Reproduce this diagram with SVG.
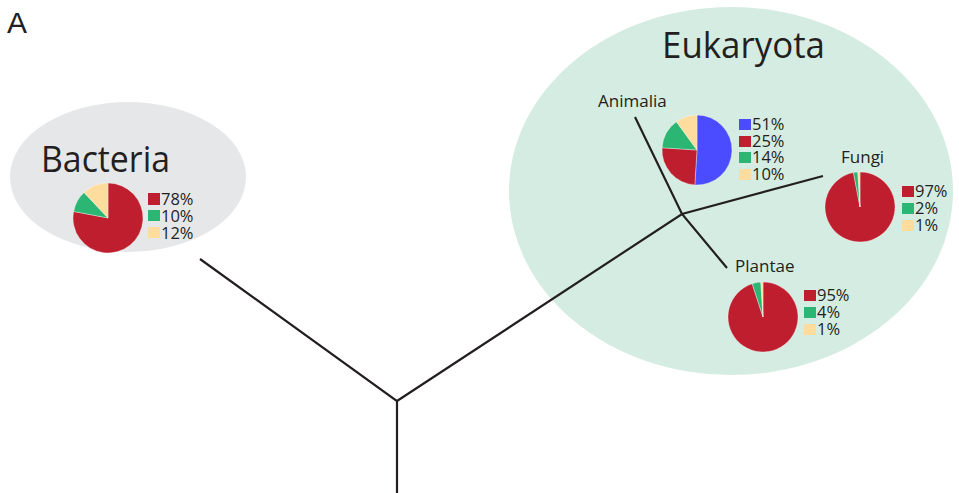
<svg xmlns="http://www.w3.org/2000/svg" width="959" height="493" viewBox="0 0 959 493">
<style>
text{font-family:"Open Sans","Noto Sans",sans-serif;fill:#231f20}
.big{font-size:36px}
.lab{font-size:17px}
.leg{font-size:16.5px}
.red{fill:#be1e2d}
.grn{fill:#2bb673}
.yel{fill:#fedc9d}
.blu{fill:#4b4cff}
.sl{stroke:#fff;stroke-width:0.5;stroke-opacity:0.7}
.br{stroke:#231f20;stroke-width:2.2;fill:none;stroke-linecap:butt}
</style>
<rect width="959" height="493" fill="#fff"/>
<text x="7" y="33" style="font-family:'Liberation Sans',Arial,sans-serif;font-size:30px">A</text>

<g id="bacteria">
<ellipse cx="128" cy="177" rx="118" ry="75" fill="#e6e7e8"/>
<text class="big" x="41" y="172" textLength="129" lengthAdjust="spacingAndGlyphs">Bacteria</text>
<path class="red sl" d="M108,218 L108,183 A35,35 0 1 1 73.62,211.44 Z"/>
<path class="grn sl" d="M108,218 L73.62,211.44 A35,35 0 0 1 84.04,192.48 Z"/>
<path class="yel sl" d="M108,218 L84.04,192.48 A35,35 0 0 1 108,183 Z"/>
<rect class="red" x="148" y="193" width="12" height="12"/>
<rect class="grn" x="148" y="210" width="12" height="11"/>
<rect class="yel" x="148" y="227" width="12" height="11"/>
<text class="leg"><tspan x="161" y="205">78%</tspan><tspan x="161" y="222">10%</tspan><tspan x="161" y="239">12%</tspan></text>
</g>

<g id="eukaryota">
<ellipse cx="731" cy="191" rx="222" ry="184" fill="#d5ece2"/>
<text class="big" x="662" y="58" textLength="163" lengthAdjust="spacingAndGlyphs">Eukaryota</text>
</g>

<g id="connectors">
<path class="br" d="M397,493 L397,401 L200,259"/>
<path class="br" d="M397,401 L682,214 L823,176"/>
<path class="br" d="M635,117 L682,214 L727,268"/>
</g>

<g id="animalia">
<text class="lab" x="598" y="107">Animalia</text>
<path class="blu sl" d="M697,150 L697,115 A35,35 0 1 1 694.80,184.93 Z"/>
<path class="red sl" d="M697,150 L694.80,184.93 A35,35 0 0 1 662.07,147.80 Z"/>
<path class="grn sl" d="M697,150 L662.07,147.80 A35,35 0 0 1 676.43,121.68 Z"/>
<path class="yel sl" d="M697,150 L676.43,121.68 A35,35 0 0 1 697,115 Z"/>
<rect class="blu" x="739" y="119" width="12" height="11"/>
<rect class="red" x="739" y="136" width="12" height="11"/>
<rect class="grn" x="739" y="152" width="12" height="11"/>
<rect class="yel" x="739" y="169" width="12" height="11"/>
<text class="leg"><tspan x="752" y="130">51%</tspan><tspan x="752" y="147">25%</tspan><tspan x="752" y="163">14%</tspan><tspan x="752" y="180">10%</tspan></text>
</g>

<g id="fungi">
<text class="lab" x="841" y="163">Fungi</text>
<path class="red sl" d="M860,207 L860,172 A35,35 0 1 1 853.44,172.62 Z"/>
<path class="grn sl" d="M860,207 L853.44,172.62 A35,35 0 0 1 857.80,172.07 Z"/>
<path class="yel sl" d="M860,207 L857.80,172.07 A35,35 0 0 1 860,172 Z"/>
<rect class="red" x="902" y="186" width="12" height="11"/>
<rect class="grn" x="902" y="203" width="12" height="11"/>
<rect class="yel" x="902" y="220" width="12" height="11"/>
<text class="leg"><tspan x="915" y="197">97%</tspan><tspan x="915" y="214">2%</tspan><tspan x="915" y="231">1%</tspan></text>
</g>

<g id="plantae">
<text class="lab" x="735" y="272">Plantae</text>
<path class="red sl" d="M763,317 L763,282 A35,35 0 1 1 752.18,283.71 Z"/>
<path class="grn sl" d="M763,317 L752.18,283.71 A35,35 0 0 1 760.80,282.07 Z"/>
<path class="yel sl" d="M763,317 L760.80,282.07 A35,35 0 0 1 763,282 Z"/>
<rect class="red" x="804" y="290" width="12" height="11"/>
<rect class="grn" x="804" y="307" width="12" height="11"/>
<rect class="yel" x="804" y="324" width="12" height="11"/>
<text class="leg"><tspan x="817" y="301">95%</tspan><tspan x="817" y="318">4%</tspan><tspan x="817" y="335">1%</tspan></text>
</g>
</svg>
